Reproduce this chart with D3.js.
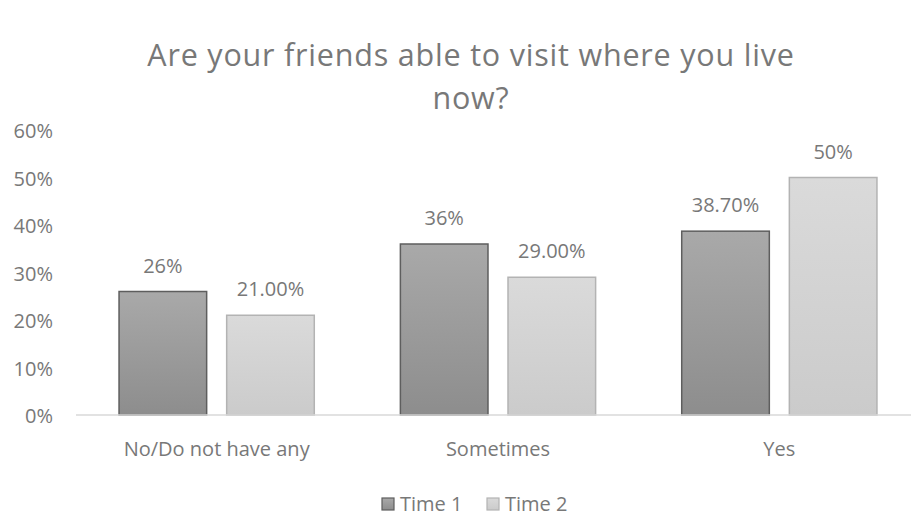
<!DOCTYPE html>
<html>
<head>
<meta charset="utf-8">
<script src="https://cdn.jsdelivr.net/npm/d3@7"></script>
<style>
  html, body { margin: 0; padding: 0; background: #fff; }
  svg { display: block; }
  text { font-family: "Open Sans", Lato, sans-serif; fill: #787878; }
</style>
</head>
<body>
<svg id="chart" width="911" height="518"></svg>
<script>
// Survey answers at two points in time
const categories = ["No/Do not have any", "Sometimes", "Yes"];
const seriesNames = ["Time 1", "Time 2"];
const time1Values = [0.26, 0.36, 0.387];
const time2Values = [0.21, 0.29, 0.50];
const time1Labels = ["26%", "36%", "38.70%"];
const time2Labels = ["21.00%", "29.00%", "50%"];
const yTickValues = [0, 0.1, 0.2, 0.3, 0.4, 0.5, 0.6];
const titleLines = ["Are your friends able to visit where you live", "now?"];

const width = 911, height = 518;
const svg = d3.select("#chart");
const FONT = "'Open Sans', Lato, sans-serif";

const x0 = d3.scaleBand().domain(categories).range([76, 920]);
const x1 = d3.scaleBand().domain(seriesNames)
  .range([0, x0.bandwidth()]).paddingInner(0.186).paddingOuter(0.4);
const y = d3.scaleLinear().domain([0, 0.6]).range([415, 130]);

// Gradients for the two series
const defs = svg.append("defs");
const fills = [
  { id: "g1", top: "#a9a9a9", bottom: "#8d8d8d", stroke: "#5e5e5e" },
  { id: "g2", top: "#dadada", bottom: "#cbcbcb", stroke: "#b3b3b3" }
];
fills.forEach(f => {
  const g = defs.append("linearGradient").attr("id", f.id)
    .attr("x1", 0).attr("y1", 0).attr("x2", 0).attr("y2", 1);
  g.append("stop").attr("offset", "0%").attr("stop-color", f.top);
  g.append("stop").attr("offset", "100%").attr("stop-color", f.bottom);
});

// Title
svg.append("g").selectAll("text").data(titleLines).join("text")
  .attr("x", 471).attr("y", (d, i) => 66 + i * 43)
  .attr("text-anchor", "middle")
  .style("font-size", "30.5px")
  .style("letter-spacing", "0.8px")
  .text(d => d);

// Y axis labels (no gridlines)
const yAxis = d3.axisLeft(y).tickValues(yTickValues)
  .tickFormat(d3.format(".0%")).tickSize(0).tickPadding(0);
const yg = svg.append("g").attr("transform", "translate(53,0)").call(yAxis);
yg.select(".domain").remove();
yg.selectAll("text").style("font-size", "20px").attr("fill", "#787878")
  .attr("dy", "0.38em").style("font-family", FONT);

// Bars
const rows = categories.map((c, i) => ({
  cat: c,
  vals: [
    { s: seriesNames[0], v: time1Values[i], label: time1Labels[i], k: 0 },
    { s: seriesNames[1], v: time2Values[i], label: time2Labels[i], k: 1 }
  ]
}));

const groups = svg.append("g").selectAll("g").data(rows).join("g")
  .attr("transform", d => `translate(${x0(d.cat)},0)`);

groups.selectAll("rect").data(d => d.vals).join("rect")
  .attr("x", d => x1(d.s))
  .attr("y", d => y(d.v))
  .attr("width", x1.bandwidth())
  .attr("height", d => y(0) - y(d.v))
  .attr("fill", d => `url(#${fills[d.k].id})`)
  .attr("stroke", d => fills[d.k].stroke)
  .attr("stroke-width", 1.5);

groups.selectAll("text.val").data(d => d.vals).join("text")
  .attr("class", "val")
  .attr("x", d => x1(d.s) + x1.bandwidth() / 2)
  .attr("y", d => y(d.v) - 19)
  .attr("text-anchor", "middle")
  .style("font-size", "20px")
  .text(d => d.label);

// Baseline
svg.append("line")
  .attr("x1", 76).attr("x2", width)
  .attr("y1", y(0)).attr("y2", y(0))
  .attr("stroke", "#d9d9d9").attr("stroke-width", 1.5);

// Category labels
const xAxis = d3.axisBottom(x0).tickSize(0).tickPadding(0);
const xg = svg.append("g").attr("transform", `translate(0,${y(0)})`).call(xAxis);
xg.select(".domain").remove();
xg.selectAll("text").style("font-size", "20px").attr("fill", "#787878")
  .attr("dy", "0").attr("y", 41).style("font-family", FONT);

// Legend
const legend = svg.append("g").selectAll("g").data(seriesNames).join("g")
  .attr("transform", (d, i) => `translate(${382 + i * 105},498)`);
legend.append("rect")
  .attr("width", 12).attr("height", 12)
  .attr("fill", (d, i) => `url(#${fills[i].id})`)
  .attr("stroke", (d, i) => fills[i].stroke).attr("stroke-width", 1.2);
legend.append("text")
  .attr("x", 18).attr("y", 13)
  .style("font-size", "20px")
  .text(d => d);
</script>
</body>
</html>
